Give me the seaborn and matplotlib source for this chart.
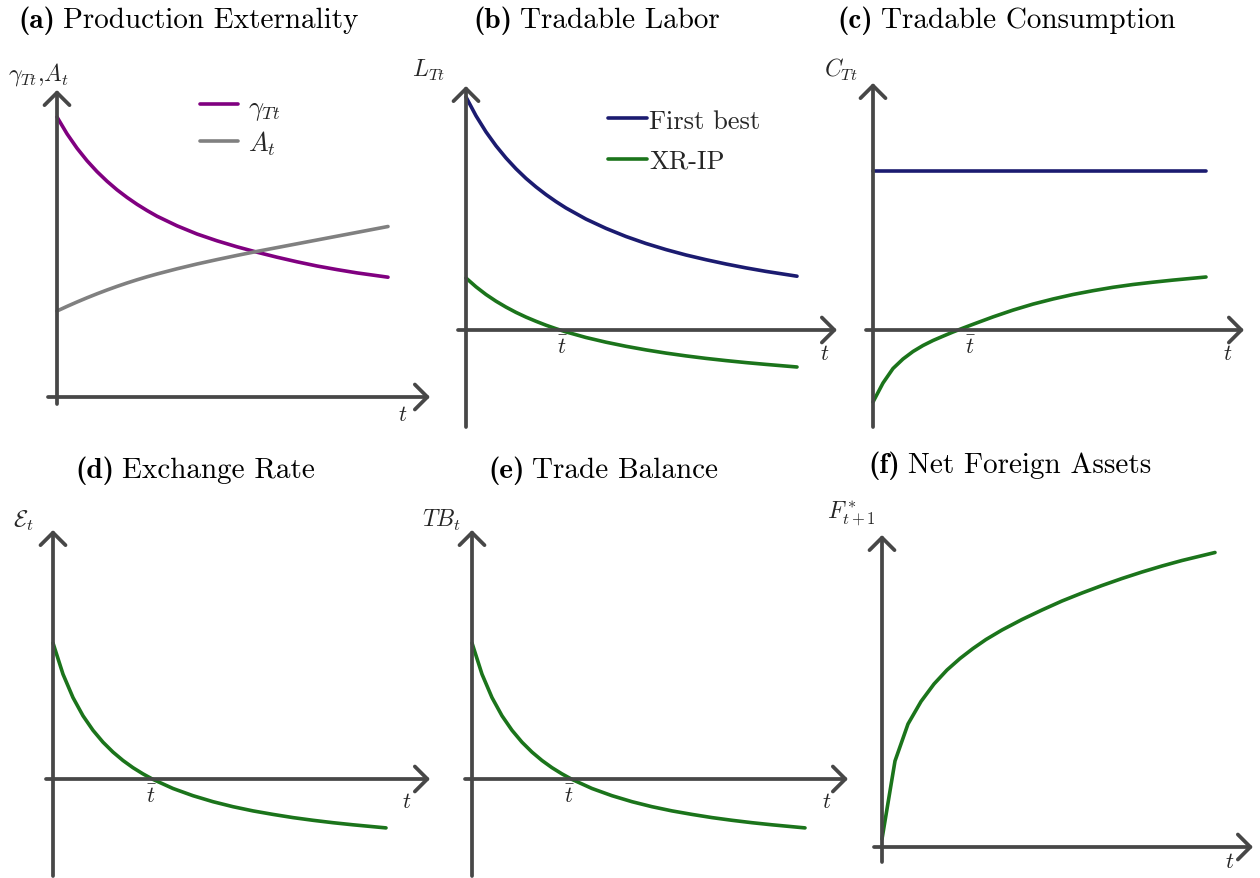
import matplotlib
matplotlib.use("Agg")
import matplotlib.pyplot as plt
import seaborn as sns

# ---------------- data (arbitrary units) ----------------
t_a = [0, 1, 2, 3, 4, 5, 6, 7, 8, 9, 10, 12, 14, 16, 18, 20, 22, 24, 26, 28, 30, 33.1]
gamma_Tt = [28.0, 26.32, 24.88, 23.63, 22.54, 21.58, 20.72, 19.96, 19.27, 18.65, 18.08,
            17.12, 16.30, 15.62, 15.02, 14.48, 13.98, 13.52, 13.10, 12.74, 12.41, 11.98]
A_t = [8.6, 9.06, 9.50, 9.92, 10.32, 10.70, 11.06, 11.40, 11.72, 12.02, 12.30,
       12.82, 13.30, 13.74, 14.16, 14.56, 14.94, 15.32, 15.70, 16.08, 16.46, 17.05]

t_b = [0, 1, 2, 3, 4, 5, 6, 7, 8, 9, 10, 12, 14, 16, 18, 20, 22, 24, 26, 28, 30, 33.1]
LT_first_best = [23.30, 21.42, 19.81, 18.42, 17.20, 16.12, 15.16, 14.31, 13.54, 12.84, 12.20,
                 11.09, 10.16, 9.35, 8.65, 8.04, 7.50, 7.03, 6.60, 6.21, 5.86, 5.38]
LT_xrip = [5.20, 4.32, 3.55, 2.88, 2.29, 1.76, 1.29, 0.87, 0.48, 0.13, -0.19,
           -0.75, -1.22, -1.63, -1.99, -2.31, -2.59, -2.84, -3.06, -3.26, -3.44, -3.70]

t_c = [0, 1, 2, 3, 4, 5, 6, 7, 8, 9, 10, 12, 14, 16, 18, 20, 22, 24, 26, 28, 30, 33.3]
CT_first_best = [15.9] * 22
CT_xrip = [-7.2, -5.3, -3.85, -2.9, -2.15, -1.55, -1.05, -0.62, -0.2, 0.19, 0.57,
           1.31, 1.99, 2.59, 3.10, 3.55, 3.93, 4.27, 4.55, 4.78, 4.99, 5.3]

t_d = [0, 1, 2, 3, 4, 5, 6, 7, 8, 9, 10, 12, 14, 16, 18, 20, 22, 24, 26, 28, 30, 33.3]
E_xrip = [13.60, 10.48, 8.14, 6.32, 4.87, 3.68, 2.69, 1.85, 1.13, 0.51, -0.04,
          -0.95, -1.67, -2.27, -2.77, -3.19, -3.54, -3.86, -4.13, -4.37, -4.58, -4.89]

t_e = [0, 1, 2, 3, 4, 5, 6, 7, 8, 9, 10, 12, 14, 16, 18, 20, 22, 24, 26, 28, 30, 33.3]
TB_xrip = [13.60, 10.48, 8.14, 6.32, 4.87, 3.68, 2.69, 1.85, 1.13, 0.51, -0.04,
           -0.95, -1.67, -2.27, -2.77, -3.19, -3.54, -3.86, -4.13, -4.37, -4.58, -4.89]

t_f = [0, 1.3, 2.6, 3.9, 5.2, 6.5, 7.8, 9.1, 10.4, 12, 14, 16, 18, 20, 22, 24, 26, 28, 30, 33.3]
F_xrip = [0.8, 8.6, 12.3, 14.55, 16.3, 17.7, 18.85, 19.85, 20.75, 21.7, 22.75,
          23.7, 24.6, 25.4, 26.15, 26.85, 27.5, 28.1, 28.65, 29.45]

titles = ["(a)", "(b)", "(c)", "(d)", "(e)", "(f)"]
title_text = ["Production Externality", "Tradable Labor", "Tradable Consumption",
              "Exchange Rate", "Trade Balance", "Net Foreign Assets"]
ylabels = [r"$\gamma_{Tt}$,$A_t$", r"$L_{Tt}$", r"$C_{Tt}$",
           r"$\mathcal{E}_t$", r"$TB_t$", r"$F^*_{t+1}$"]

# ---------------- style ----------------
sns.set_style("white")
plt.rcParams["font.family"] = ["cmr10", "DejaVu Sans"]
plt.rcParams["mathtext.fontset"] = "cm"
plt.rcParams["axes.unicode_minus"] = False
plt.rcParams["axes.formatter.use_mathtext"] = True

PURPLE = "#800080"
GRAY = "#808080"
NAVY = "#1b1b70"
GREEN = "#1b741b"
AXC = "#474747"

W, H = 1260, 879
S = 10.0  # pixels per data unit
fig = plt.figure(figsize=(W / 100, H / 100), dpi=100)


def fx(x):
    return x / W


def fy(y):
    return 1 - y / H


def make_ax(ox, oy, x0, x1, y0, y1):
    left, right, top, bottom = x0 - 20, x1 + 20, y1 - 20, y0 + 5
    ax = fig.add_axes([fx(left), fy(bottom), (right - left) / W, (bottom - top) / H])
    ax.set_xlim((left - ox) / S, (right - ox) / S)
    ax.set_ylim((oy - bottom) / S, (oy - top) / S)
    ax.axis("off")
    ap = dict(arrowstyle="->,head_length=0.45,head_width=0.45", lw=2.7, color=AXC,
              shrinkA=0, shrinkB=0, mutation_scale=20, capstyle="round", joinstyle="round")
    ax.annotate("", xy=((x1 - ox) / S, 0), xytext=((x0 - ox) / S, 0), arrowprops=ap,
                annotation_clip=False)
    ax.annotate("", xy=(0, (oy - y1) / S), xytext=(0, (oy - y0) / S), arrowprops=ap,
                annotation_clip=False)
    return ax


LW = 2.6
# panel geometry (pixels): origin, x-axis start/tip, y-axis bottom/tip
ax_a = make_ax(57, 398, 48, 430, 405, 91)
ax_b = make_ax(466, 331, 458, 837, 428, 87)
ax_c = make_ax(873, 331, 866, 1244, 428, 84)
ax_d = make_ax(53, 780, 46, 430, 877, 531)
ax_e = make_ax(472, 780, 465, 848, 877, 531)
ax_f = make_ax(882, 848, 874, 1253, 863, 536)

sns.lineplot(x=t_a, y=gamma_Tt, ax=ax_a, color=PURPLE, lw=LW, label=r"$\gamma_{Tt}$", estimator=None)
sns.lineplot(x=t_a, y=A_t, ax=ax_a, color=GRAY, lw=LW, label=r"$A_t$", estimator=None)

sns.lineplot(x=t_b, y=LT_first_best, ax=ax_b, color=NAVY, lw=LW, label="First best", estimator=None)
sns.lineplot(x=t_b, y=LT_xrip, ax=ax_b, color=GREEN, lw=LW, label="XR-IP", estimator=None)

sns.lineplot(x=t_c, y=CT_first_best, ax=ax_c, color=NAVY, lw=LW, legend=False, estimator=None)
sns.lineplot(x=t_c, y=CT_xrip, ax=ax_c, color=GREEN, lw=LW, legend=False, estimator=None)

sns.lineplot(x=t_d, y=E_xrip, ax=ax_d, color=GREEN, lw=LW, legend=False, estimator=None)
sns.lineplot(x=t_e, y=TB_xrip, ax=ax_e, color=GREEN, lw=LW, legend=False, estimator=None)
sns.lineplot(x=t_f, y=F_xrip, ax=ax_f, color=GREEN, lw=LW, legend=False, estimator=None)

# legends
ax_a.legend(loc="upper left", bbox_to_anchor=(fx(200), fy(96)), bbox_transform=fig.transFigure,
            frameon=False, fontsize=19, handlelength=1.45, handletextpad=0.35,
            borderpad=0, borderaxespad=0, labelspacing=0.26)
ax_b.legend(loc="upper left", bbox_to_anchor=(fx(608), fy(110)), bbox_transform=fig.transFigure,
            frameon=False, fontsize=19, handlelength=1.48, handletextpad=0.08,
            borderpad=0, borderaxespad=0, labelspacing=0.62)

# titles: bold tag + roman text
renderer = fig.canvas.get_renderer()
title_pos = [(18, 28), (473, 28), (837, 28), (75, 478), (488, 478), (868, 473)]
TFS = 21
for (x, y), tag, txt in zip(title_pos, titles, title_text):
    t1 = fig.text(fx(x), fy(y), tag, fontsize=TFS, family="cmb10",
                  ha="left", va="baseline", color="black")
    bb = t1.get_window_extent(renderer)
    fig.text(fx(bb.x1 + 8), fy(y), txt, fontsize=TFS, ha="left", va="baseline", color="black")

# y-axis labels
ylab_pos = [(8, 81, "left"), (412, 77, "left"), (824, 77, "left"),
            (13, 527, "left"), (422, 527, "left"), (876, 519, "right")]
for (x, y, ha), lab in zip(ylab_pos, ylabels):
    fig.text(fx(x), fy(y), lab, fontsize=17, ha=ha, va="baseline")

# x-axis labels
t_pos = [(403, 421), (825, 360), (1228, 360), (407, 808), (827, 808), (1230, 868)]
for x, y in t_pos:
    fig.text(fx(x), fy(y), r"$t$", fontsize=16, ha="center", va="baseline")
tbar_pos = [(563, 354), (971, 354), (152, 803), (570, 803)]
for x, y in tbar_pos:
    fig.text(fx(x), fy(y), r"$\bar{t}$", fontsize=16, ha="center", va="baseline")

fig.savefig("out.png", dpi=100)
